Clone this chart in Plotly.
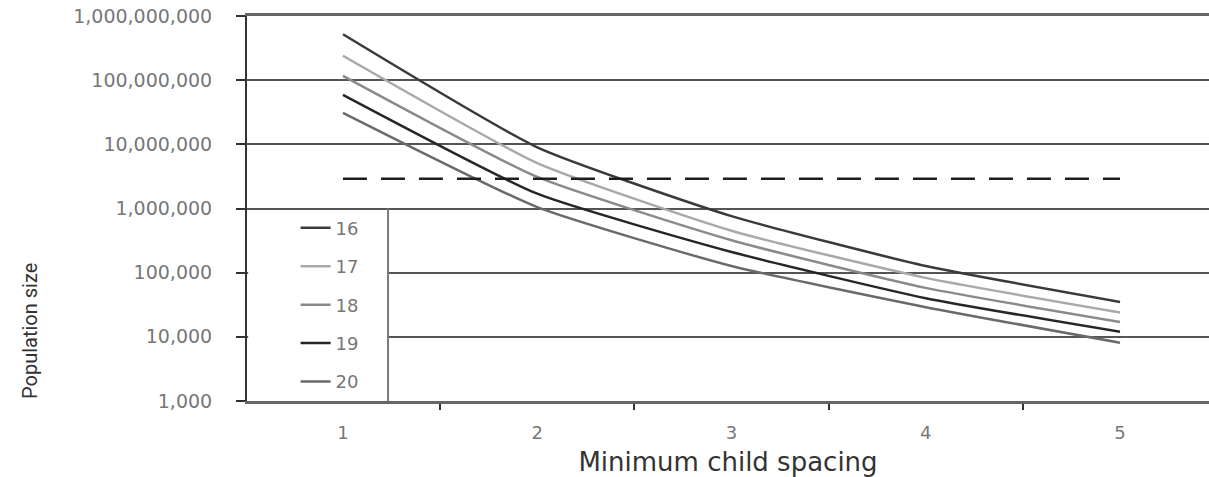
import plotly.graph_objects as go

spacing = [1, 2, 3, 4, 5]
series_names = ["16", "17", "18", "19", "20"]
pop_16 = [520e6, 9.0e6, 7.6e5, 1.27e5, 3.5e4]
pop_17 = [240e6, 5.1e6, 4.5e5, 8.3e4, 2.4e4]
pop_18 = [117e6, 3.1e6, 3.2e5, 5.8e4, 1.7e4]
pop_19 = [59e6, 1.7e6, 2.1e5, 4.0e4, 1.2e4]
pop_20 = [31e6, 1.05e6, 1.27e5, 2.9e4, 8.1e3]
threshold = [2.9e6, 2.9e6]
threshold_x = [1, 5]
y_tickvals = [1e3, 1e4, 1e5, 1e6, 1e7, 1e8, 1e9]
y_ticktext = ["1,000", "10,000", "100,000", "1,000,000", "10,000,000",
              "100,000,000", "1,000,000,000"]
x_ticktext = ["1", "2", "3", "4", "5"]

series = [pop_16, pop_17, pop_18, pop_19, pop_20]
colors = ["#3a3a3a", "#a9a9a9", "#8a8a8a", "#262626", "#6a6a6a"]

fig = go.Figure()
for name, vals, col in zip(series_names, series, colors):
    fig.add_trace(go.Scatter(
        x=spacing, y=vals, name=name, mode="lines", legendgroup=name,
        line=dict(color=col, width=2.5, shape="spline", smoothing=0.5),
    ))

fig.add_trace(go.Scatter(
    x=threshold_x, y=threshold, mode="lines", showlegend=False,
    line=dict(color="#1e1e1e", width=2.5, dash="24px,14px"),
))

# white box behind legend + right border
fig.add_shape(type="rect", xref="x", yref="paper", x0=0.512, x1=1.232,
              y0=0.004, y1=0.495, fillcolor="white", line=dict(width=0),
              layer="above")
fig.add_shape(type="line", xref="x", yref="paper", x0=1.232, x1=1.232,
              y0=0.0, y1=0.5, line=dict(color="#7a7a7a", width=2),
              layer="above")

fig.add_annotation(text="Population size", xref="paper", yref="paper",
                   x=-0.2256, y=0.0, xanchor="center", yanchor="bottom",
                   textangle=-90, showarrow=False,
                   font=dict(family="Roboto", size=20, color="#333333"))

fig.update_layout(
    width=1209, height=477,
    margin=dict(l=247, r=0, t=16, b=76),
    paper_bgcolor="white", plot_bgcolor="white",
    showlegend=True,
    legend=dict(x=0.0505, y=0.497, xanchor="left", yanchor="top",
                bgcolor="rgba(0,0,0,0)", borderwidth=0,
                tracegroupgap=12,
                font=dict(family="DejaVu Sans", size=18, color="#777777")),
    font=dict(family="DejaVu Sans", color="#777777"),
)

fig.update_xaxes(
    range=[0.506, 5.458], tickvals=spacing, ticktext=x_ticktext,
    ticks="", showgrid=False, zeroline=False,
    showline=True, linecolor="#666666", linewidth=2.5, mirror=True,
    tickfont=dict(family="DejaVu Sans", size=18, color="#777777"),
    ticklabelstandoff=14,
    minor=dict(tickvals=[1.5, 2.5, 3.5, 4.5], ticks="outside", ticklen=6,
               tickwidth=2, tickcolor="#333333", showgrid=False),
    title=dict(text="Minimum child spacing",
               font=dict(family="DejaVu Sans", size=26, color="#333333"),
               standoff=13),
)

fig.update_yaxes(
    type="log", range=[3, 9], tickvals=y_tickvals, ticktext=y_ticktext,
    ticks="outside", ticklen=9, tickwidth=2, tickcolor="#333333",
    showline=True, linecolor="#333333", linewidth=2,
    showgrid=True, gridcolor="#555555", gridwidth=1.5,
    zeroline=False,
    tickfont=dict(family="DejaVu Sans", size=19, color="#777777"),
    ticklabelstandoff=20,
)

fig.write_html(
    "out.html",
    config={"displayModeBar": False},
    post_script="document.body.style.margin='0px';document.body.style.overflow='hidden';",
)
